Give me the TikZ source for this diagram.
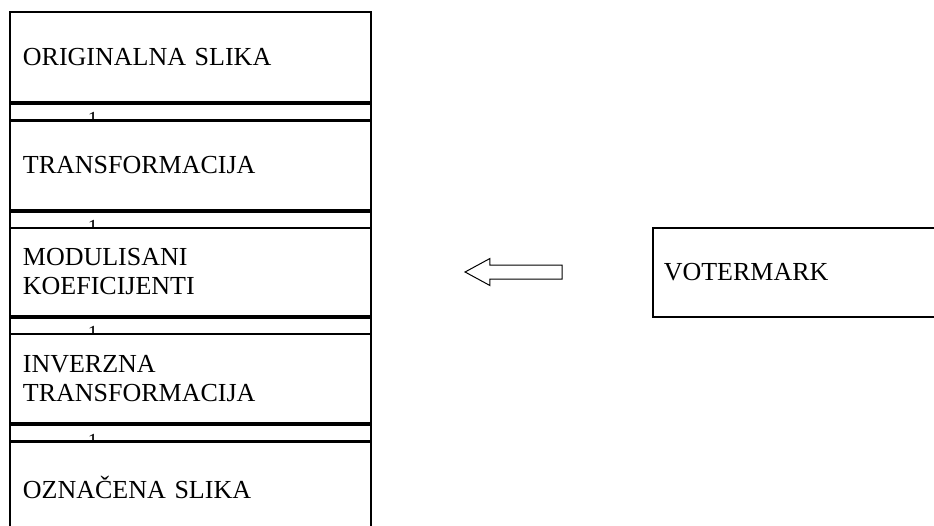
\documentclass[tikz,border=0pt]{standalone}
\usepackage{fontspec}
\setmainfont{Liberation Serif}
\usepackage{tikz}
\usetikzlibrary{shapes.arrows}

\begin{document}
\begin{tikzpicture}[x=0.5pt,y=-0.5pt,
    stage/.style={draw,line width=0.9pt,fill=white,anchor=north west,
      minimum width=180.5pt,text width=167.5pt,inner xsep=6.5pt,
      align=left,font=\fontsize{13}{14.5}\selectfont},
    gap/.style={draw,line width=0.9pt,anchor=north west,
      minimum width=180.5pt,minimum height=8pt,inner sep=0pt},
    gapnum/.style={anchor=base,inner sep=0pt,font=\fontsize{10}{11}\selectfont}]
    \useasboundingbox (0,0) rectangle (934,526);
    % strips between the stages
    \node[gap] (g1) at (9,103) {};
    \node[gapnum] (n1) at (93,125.5) {1};
    \node[gap] (g2) at (9,210.7) {};
    \node[gapnum] (n2) at (93,233) {1};
    \node[gap] (g3) at (9,317) {};
    \node[gapnum] (n3) at (93,339) {1};
    \node[gap] (g4) at (9,424) {};
    \node[gapnum] (n4) at (93,447) {1};
    % stages
    \node[stage,minimum height=45pt] (orig) at (9,11) {ORIGINALNA SLIKA};
    \node[stage,minimum height=44.5pt] (trans) at (9,120) {TRANSFORMACIJA};
    \node[stage,minimum height=44pt] (modul) at (9,227) {MODULISANI\\KOEFICIJENTI};
    \node[stage,minimum height=44.5pt] (inv) at (9,333) {INVERZNA\\TRANSFORMACIJA};
    \node[stage,minimum height=46pt] (mark) at (9,441) {OZNAČENA SLIKA};
    % watermark input
    \node[draw,line width=0.8pt,anchor=north west,minimum width=149pt,
          minimum height=44.5pt,text width=138pt,inner xsep=5.5pt,align=left,
          font=\fontsize{13}{14.5}\selectfont] (wm) at (652,227) {VOTERMARK};
    \node[draw,line width=0.5pt,single arrow,shape border rotate=180,
          minimum height=48.5pt,inner xsep=0pt,inner ysep=3.25pt,
          single arrow head extend=3.25pt,single arrow tip angle=57]
      (arr) at (520,272) {};
  \end{tikzpicture}
\end{document}
